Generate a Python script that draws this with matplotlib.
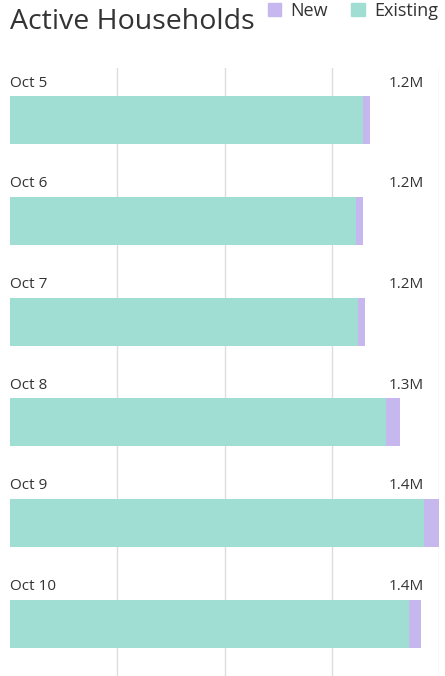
import matplotlib.pyplot as plt
from matplotlib.patches import Patch
import matplotlib.transforms as mtransforms

# datos (miles de hogares)
dias = ['Oct 5', 'Oct 6', 'Oct 7', 'Oct 8', 'Oct 9', 'Oct 10']
existentes = [1169, 1146, 1152, 1244, 1370, 1321]
nuevos = [23, 23, 24, 47, 50, 39]
etiquetas = ['1.2M', '1.2M', '1.2M', '1.3M', '1.4M', '1.4M']

color_exist = '#a0ded3'
color_nuevo = '#c6b8ef'
color_texto = '#333333'

plt.rcParams['font.family'] = ['Open Sans', 'DejaVu Sans']

W, H = 445, 676
fig = plt.figure(figsize=(W / 100, H / 100), dpi=100)
ax = fig.add_axes([10 / W, 0, 429 / W, 1 - 68 / H])

pos = list(range(len(dias)))
ax.barh(pos, existentes, height=0.475, color=color_exist, zorder=2)
ax.barh(pos, nuevos, left=existentes, height=0.475, color=color_nuevo, zorder=2)

total_max = max(e + n for e, n in zip(existentes, nuevos))
ax.set_xlim(0, total_max)
ax.set_ylim(5.52, -0.52)
ax.set_xticks([total_max * k / 4 for k in range(1, 5)])
ax.set_yticks([])
ax.tick_params(axis='x', length=0, labelbottom=False)
ax.grid(axis='x', color='#dddddd', linewidth=1)
ax.set_axisbelow(True)
for s in ax.spines.values():
    s.set_visible(False)

trans = mtransforms.blended_transform_factory(ax.transAxes, ax.transData)
for i, (d, lab) in enumerate(zip(dias, etiquetas)):
    ax.text(0, i - 0.37, d, transform=trans, ha='left', va='center',
            fontsize=11, color=color_texto)
    ax.text(0.965, i - 0.37, lab, transform=trans, ha='right', va='center',
            fontsize=11, color=color_texto)

fig.text(10 / W, 1 - 22 / H, 'Active Households', ha='left', va='center',
         fontsize=20.5, color=color_texto)

handles = [Patch(color=color_nuevo, label='New'),
           Patch(color=color_exist, label='Existing')]
fig.legend(handles=handles, ncol=2, loc='upper right',
           bbox_to_anchor=(0.988, 1.0), frameon=False, fontsize=13,
           handlelength=0.75, handleheight=0.75, handletextpad=0.5,
           columnspacing=1.3, borderaxespad=0.0, borderpad=0.1,
           labelcolor=color_texto)

fig.savefig('out.png', dpi=100)
